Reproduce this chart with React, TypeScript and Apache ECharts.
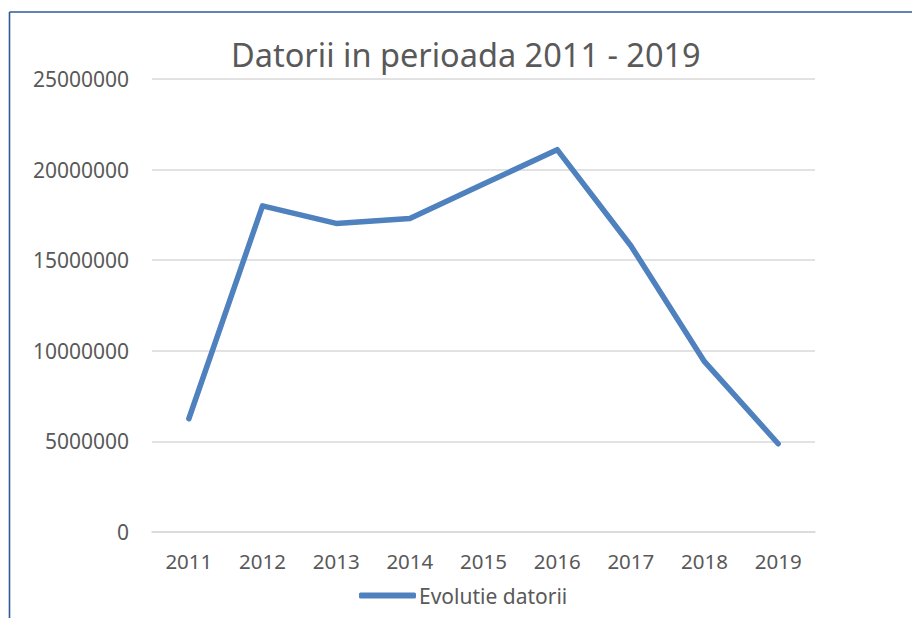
import React, { useEffect, useRef } from "react";
import * as echarts from "echarts";

const years = ["2011", "2012", "2013", "2014", "2015", "2016", "2017", "2018", "2019"];
const datorii = [6250000, 18000000, 17030000, 17300000, 19200000, 21100000, 15800000, 9400000, 4870000];
const seriesName = "Evolutie datorii";
const titleText = "Datorii in perioada 2011 - 2019";

export default function App() {
  const ref = useRef<HTMLDivElement>(null);
  useEffect(() => {
    if (!ref.current) return;
    const chart = echarts.init(ref.current, null, { renderer: "svg" });
    const font = "'Noto Sans', 'Open Sans', sans-serif";
    chart.setOption({
      animation: false,
      backgroundColor: "#ffffff",
      title: {
        text: titleText,
        left: 231,
        top: 38,
        padding: 0,
        textStyle: { fontFamily: font, fontSize: 32.5, fontWeight: "normal", color: "#595959" },
      },
      legend: {
        data: [{ name: seriesName, icon: "roundRect" }],
        left: 359,
        top: 585,
        padding: 0,
        itemWidth: 57,
        itemHeight: 6,
        textStyle: { fontFamily: font, fontSize: 21, color: "#595959", padding: [0, 0, 0, -2] },
      },
      grid: { left: 152, right: 97, top: 79, bottom: 86, containLabel: false },
      xAxis: {
        type: "category",
        data: years,
        boundaryGap: true,
        axisLine: { show: true, lineStyle: { color: "#d9d9d9", width: 1.5 } },
        axisTick: { show: false },
        axisLabel: { fontFamily: font, fontSize: 20.5, color: "#595959", margin: 18 },
      },
      yAxis: {
        type: "value",
        min: 0,
        max: 25000000,
        interval: 5000000,
        axisLine: { show: false },
        axisTick: { show: false },
        splitLine: { lineStyle: { color: "#d9d9d9", width: 1.5 } },
        axisLabel: {
          fontFamily: font,
          fontSize: 21,
          color: "#595959",
          margin: 23,
          formatter: (v: number) => String(v),
        },
      },
      series: [
        {
          name: seriesName,
          type: "line",
          data: datorii,
          symbol: "none",
          lineStyle: { color: "#4e81bd", width: 5.5, cap: "round", join: "round" },
          itemStyle: { color: "#4e81bd" },
        },
      ],
      graphic: [
        { type: "line", shape: { x1: 9.5, y1: 12, x2: 912, y2: 12 }, style: { stroke: "#2e5a94", lineWidth: 1.6 } },
        { type: "line", shape: { x1: 9.5, y1: 12, x2: 9.5, y2: 618 }, style: { stroke: "#2e5a94", lineWidth: 1.6 } },
      ],
    });
    return () => chart.dispose();
  }, []);
  return (
    <div
      ref={ref}
      style={{ position: "absolute", left: 0, top: 0, width: 912, height: 618 }}
    />
  );
}
